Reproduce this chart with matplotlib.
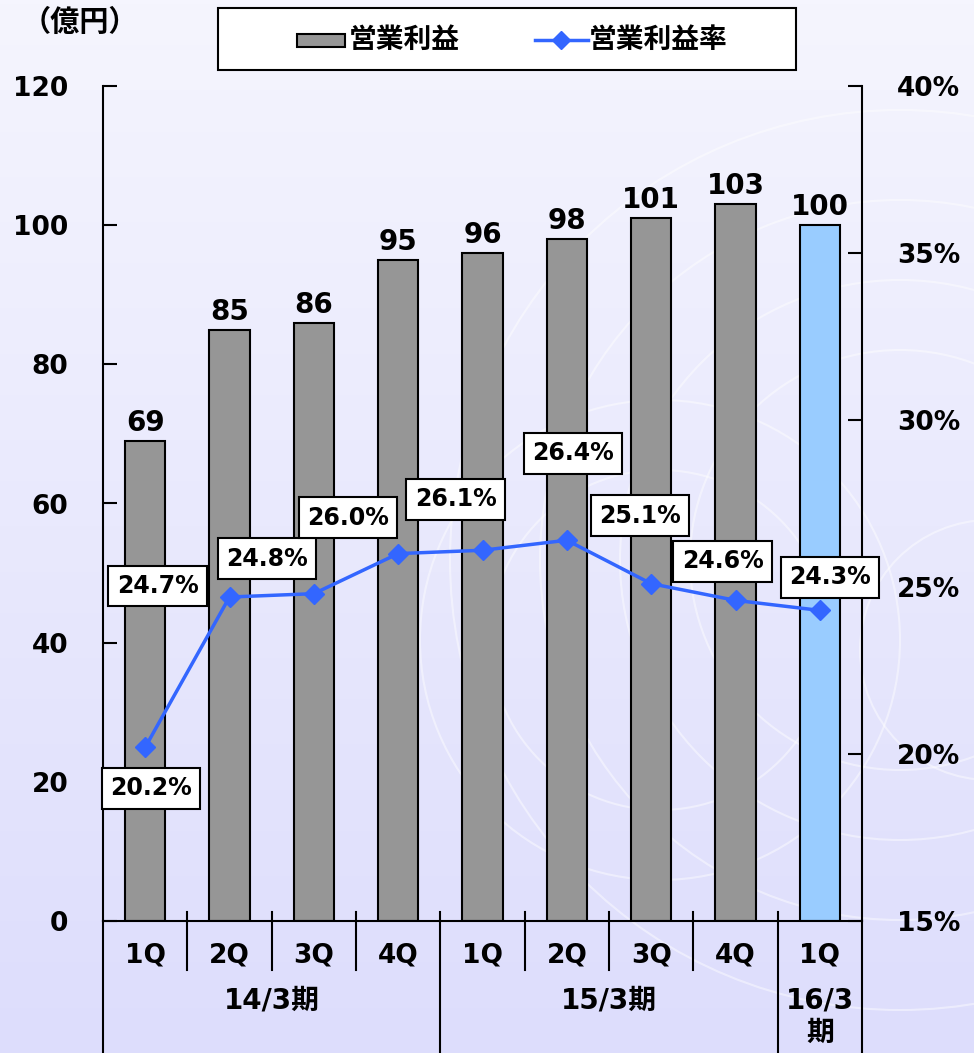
import matplotlib

matplotlib.use("Agg")
import matplotlib.pyplot as plt
import matplotlib.transforms as mtransforms
import numpy as np
from matplotlib.patches import Circle, Rectangle

QUARTERS = ["1Q", "2Q", "3Q", "4Q", "1Q", "2Q", "3Q", "4Q", "1Q"]
PERIODS = ["14/3期", "15/3期", "16/3\n期"]
PERIOD_SPANS = [(0, 3), (4, 7), (8, 8)]
OPERATING_PROFIT = [69, 85, 86, 95, 96, 98, 101, 103, 100]
OPERATING_MARGIN = [20.2, 24.7, 24.8, 26.0, 26.1, 26.4, 25.1, 24.6, 24.3]
PROFIT_TICKS = [0, 20, 40, 60, 80, 100, 120]
MARGIN_TICKS = [15, 20, 25, 30, 35, 40]

# hand placed label boxes, pixel offsets from each point
LABEL_OFFSETS = [(6, -41), (-72, 11), (-47, 35), (-50, 36), (-27, 51),
                 (6, 87), (-11, 68), (-13, 39), (10, 33)]

GRAY = "#969696"
LIGHT_BLUE = "#99CCFF"
LINE_BLUE = "#3366FF"

plt.rcParams["font.family"] = ["DejaVu Sans", "Noto Sans CJK JP"]
plt.rcParams["font.weight"] = "bold"

W, H = 974, 1053
fig = plt.figure(figsize=(W / 100, H / 100), dpi=100)

# background: soft lavender gradient with faint white rings
bg = fig.add_axes([0, 0, 1, 1])
bg.set_zorder(-1)
top = np.array([245, 245, 254]) / 255
bottom = np.array([221, 221, 252]) / 255
t = np.linspace(0, 1, 256)[:, None, None]
grad = top * (1 - t) + bottom * t
bg.imshow(grad, extent=[0, W, H, 0], aspect="auto")
for cx, cy, r in [(900, 560, 210), (900, 560, 280), (900, 560, 360), (900, 560, 450),
                  (660, 640, 170), (660, 640, 240), (990, 650, 130)]:
    bg.add_patch(Circle((cx, cy), r, fill=False, ec="white", lw=1.5, alpha=0.45))
bg.set_xlim(0, W)
bg.set_ylim(H, 0)
bg.axis("off")

# legend and unit, drawn in pixel space
bg.add_patch(Rectangle((218, 8), 578, 62, fc="white", ec="black", lw=1.5))
bg.add_patch(Rectangle((297, 34), 48, 13, fc=GRAY, ec="black", lw=1.5))
bg.text(349, 40, "営業利益", fontsize=20, fontweight="bold", ha="left", va="center",
        family=["Noto Sans CJK JP"])
bg.plot([535, 588], [40, 40], color=LINE_BLUE, lw=2.5)
bg.plot([561], [40], color=LINE_BLUE, marker="D", ms=9)
bg.text(589, 40, "営業利益率", fontsize=20, fontweight="bold", ha="left", va="center",
        family=["Noto Sans CJK JP"])
bg.text(80, 22, "（億円）", fontsize=21, fontweight="bold", ha="center", va="center",
        family=["Noto Sans CJK JP"])

ax = fig.add_axes([103 / W, (H - 921) / H, (862 - 103) / W, (921 - 86) / H])
ax.set_facecolor("none")
x = np.arange(len(QUARTERS))
colors = [GRAY] * (len(QUARTERS) - 1) + [LIGHT_BLUE]
ax.bar(x, OPERATING_PROFIT, width=0.48, color=colors, edgecolor="black", linewidth=1.5, zorder=2)
for i, v in enumerate(OPERATING_PROFIT):
    ax.annotate(str(v), xy=(i, v), xytext=(0, 4), textcoords="offset pixels",
                ha="center", va="bottom", fontsize=20, fontweight="bold")

ax.set_xlim(-0.5, len(QUARTERS) - 0.5)
ax.set_ylim(0, 120)
ax.set_yticks(PROFIT_TICKS)
ax.set_xticks([])
ax.tick_params(axis="y", direction="in", length=10, width=1.5, pad=25, labelsize=19)
ax.spines[["top", "right"]].set_visible(False)
ax.spines[["left", "bottom"]].set_linewidth(1.5)

ax2 = ax.twinx()
ax2.set_ylim(15, 40)
ax2.set_yticks(MARGIN_TICKS)
ax2.set_yticklabels([f"{m}%" for m in MARGIN_TICKS])
ax2.tick_params(axis="y", direction="in", length=10, width=1.5, pad=25, labelsize=19)
ax2.spines[["top", "left", "bottom"]].set_visible(False)
ax2.spines["right"].set_linewidth(1.5)
ax2.plot(x, OPERATING_MARGIN, color=LINE_BLUE, lw=2.5, marker="D", ms=10, zorder=3)
for i, (v, (dx, dy)) in enumerate(zip(OPERATING_MARGIN, LABEL_OFFSETS)):
    ax2.annotate(f"{v:.1f}%", xy=(i, v), xytext=(dx, dy), textcoords="offset pixels",
                 ha="center", va="center", fontsize=17, fontweight="bold", zorder=5,
                 bbox=dict(boxstyle="square,pad=0.35", fc="white", ec="black", lw=1.5))

# category table under the axis
trans = mtransforms.blended_transform_factory(ax.transData, ax.transAxes)
for i, q in enumerate(QUARTERS):
    ax.text(i, -0.041, q, transform=trans, ha="center", va="center", fontsize=19,
            fontweight="bold")
period_edges = [e + 0.5 for _, e in PERIOD_SPANS[:-1]]
for b in np.arange(0.5, len(QUARTERS) - 1):
    y_end = -0.16 if b in period_edges else -0.059
    ax.plot([b, b], [0.011, y_end], transform=trans, color="black", lw=1.5, clip_on=False)
for b in (-0.5, len(QUARTERS) - 0.5):
    ax.plot([b, b], [0, -0.16], transform=trans, color="black", lw=1.5, clip_on=False)
for label, (s, e) in zip(PERIODS, PERIOD_SPANS):
    ax.text((s + e) / 2, -0.079, label, transform=trans, ha="center", va="top",
            fontsize=20, fontweight="bold", linespacing=1.2)

fig.savefig("out.png", dpi=100)
